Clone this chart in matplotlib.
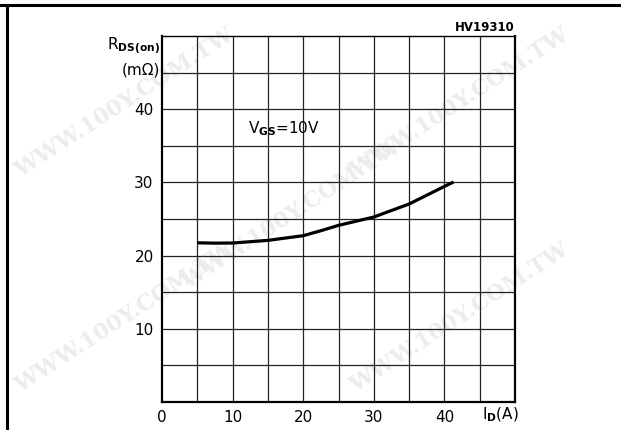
import matplotlib
matplotlib.use("Agg")
import matplotlib.pyplot as plt
from matplotlib.lines import Line2D

plt.rcParams["font.family"] = ["DejaVu Sans"]
plt.rcParams["mathtext.default"] = "regular"

# ===== 数据 =====
i_d = [5, 7.5, 10, 15, 20, 22.5, 25, 30, 35, 40, 41.3]                       # I_D (A)
r_ds = [21.75, 21.7, 21.72, 22.08, 22.72, 23.4, 24.13, 25.27, 27.05, 29.45, 30.05]  # R_DS(on) (mΩ)
x_ticks = [0, 10, 20, 30, 40]
y_ticks = [10, 20, 30, 40]
grid_step = 5

fig = plt.figure(figsize=(6.21, 4.30), dpi=100)
ax = fig.add_axes([0.2609, 0.0651, 0.5684, 0.8512])
ax.set_facecolor("none")

# 水印（放在最底层）
wm_pos = [(0.20, 0.76), (0.74, 0.76), (0.47, 0.50), (0.20, 0.26), (0.74, 0.26)]
for wx, wy in wm_pos:
    fig.text(wx, wy, "WWW.100Y.COM.TW", rotation=33, color="#ececec",
             fontsize=16, family="DejaVu Serif", fontweight="bold",
             ha="center", va="center", zorder=-5)

# 外框线
fig.add_artist(Line2D([0, 1], [1 - 5 / 430, 1 - 5 / 430], color="black", lw=2.2))
fig.add_artist(Line2D([7 / 621, 7 / 621], [0, 1 - 5 / 430], color="black", lw=2.2))

ax.set_xlim(0, 50)
ax.set_ylim(0, 50)
for v in range(grid_step, 50, grid_step):
    ax.axvline(v, color="#222222", lw=0.9, zorder=1)
    ax.axhline(v, color="#222222", lw=0.9, zorder=1)
for s in ax.spines.values():
    s.set_linewidth(1.6)
ax.spines["top"].set_linewidth(1.0)

ax.set_xticks(x_ticks)
ax.set_yticks(y_ticks)
ax.tick_params(length=0, labelsize=11, pad=6)

ax.plot(i_d, r_ds, color="black", lw=2.3, zorder=3, solid_capstyle="butt")

ax.text(-0.3, 48.6, r"R$_{\mathbf{DS(on)}}$", ha="right", va="center",
        fontsize=11, clip_on=False)
ax.text(-0.3, 45.3, "(mΩ)", ha="right", va="center", fontsize=11, clip_on=False)
ax.text(12.2, 37.4, r"V$_{\mathbf{GS}}$=10V", ha="left", va="center",
        fontsize=11, zorder=4)
ax.text(50, 51.2, "HV19310", ha="right", va="center", fontsize=8.5,
        fontweight="bold", clip_on=False)
ax.text(48.0, -1.8, r"I$_{\mathbf{D}}$(A)", ha="center", va="center",
        fontsize=11, clip_on=False)

fig.savefig("out.png", dpi=100)
